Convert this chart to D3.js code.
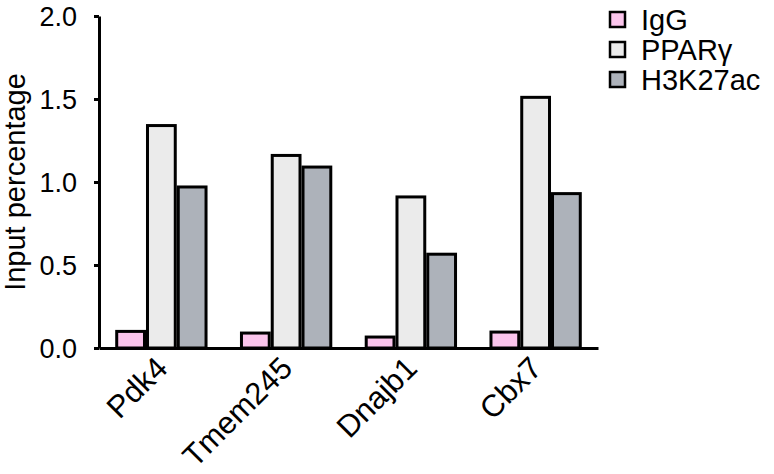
<!DOCTYPE html>
<html>
<head>
<meta charset="utf-8">
<script src="https://cdn.jsdelivr.net/npm/d3@7"></script>
<style>
  body { margin: 0; background: #fff; }
  text { font-family: "Liberation Sans", Arial, sans-serif; fill: #000; }
</style>
</head>
<body>
<div id="chart"></div>
<script>
const genes = ["Pdk4", "Tmem245", "Dnajb1", "Cbx7"];
const groups = ["IgG", "PPARγ", "H3K27ac"];
const igg = [0.10, 0.09, 0.066, 0.096];
const ppar = [1.34, 1.16, 0.91, 1.51];
const h3k = [0.97, 1.09, 0.565, 0.93];
const yTicks = [0, 0.5, 1.0, 1.5, 2.0];
const colors = ["#fbc5ec", "#ebebeb", "#adb2ba"];

const data = genes.map((g, i) => ({
  gene: g,
  values: [igg[i], ppar[i], h3k[i]].map((v, j) => ({ key: groups[j], value: v }))
}));

const width = 774, height = 474;
const margin = { top: 16, right: 176, bottom: 126, left: 99 };

const svg = d3.select("#chart").append("svg")
  .attr("width", width)
  .attr("height", height);

const x0 = d3.scaleBand()
  .domain(genes)
  .range([margin.left, width - margin.right])
  .paddingInner(0.26)
  .paddingOuter(0.13);

const x1 = d3.scaleBand()
  .domain(groups)
  .range([0, x0.bandwidth()])
  .padding(0);

const y = d3.scaleLinear()
  .domain([0, 2])
  .range([height - margin.bottom, margin.top]);

const color = d3.scaleOrdinal().domain(groups).range(colors);

// bars
const g = svg.append("g");
g.selectAll("g.gene")
  .data(data)
  .enter().append("g")
  .attr("class", "gene")
  .attr("transform", d => `translate(${x0(d.gene)},0)`)
  .selectAll("rect")
  .data(d => d.values)
  .enter().append("rect")
  .attr("x", d => x1(d.key) + 1.5)
  .attr("y", d => y(d.value))
  .attr("width", x1.bandwidth() - 3)
  .attr("height", d => y(0) - y(d.value))
  .attr("fill", d => color(d.key))
  .attr("stroke", "#000")
  .attr("stroke-width", 3);

// y axis
const yAxis = svg.append("g")
  .attr("transform", `translate(${margin.left},0)`)
  .call(d3.axisLeft(y).tickValues(yTicks).tickFormat(d3.format(".1f")).tickSize(5).tickSizeOuter(0).tickPadding(17));
yAxis.select(".domain").attr("stroke-width", 3);
yAxis.selectAll(".tick line").attr("stroke-width", 3);
yAxis.selectAll("text").style("font-size", "27px").attr("fill", "#000").attr("dy", "0.36em");

// x axis
const xAxis = svg.append("g")
  .attr("transform", `translate(0,${y(0)})`)
  .call(d3.axisBottom(x0).tickSize(0).tickSizeOuter(0).tickPadding(0));
xAxis.select(".domain").attr("stroke-width", 3);
xAxis.selectAll("text")
  .style("font-size", "31px")
  .attr("fill", "#000")
  .attr("text-anchor", "end")
  .attr("dy", 0)
  .attr("transform", "translate(8,22) rotate(-45)");

// y title
svg.append("text")
  .attr("transform", `translate(25,${(y(0) + y(2)) / 2}) rotate(-90)`)
  .attr("text-anchor", "middle")
  .style("font-size", "29px")
  .text("Input percentage");

// legend
const legend = svg.append("g")
  .attr("transform", "translate(610,12)");
const item = legend.selectAll("g")
  .data(groups)
  .enter().append("g")
  .attr("transform", (d, i) => `translate(0,${i * 30})`);
item.append("rect")
  .attr("width", 15)
  .attr("height", 15)
  .attr("fill", d => color(d))
  .attr("stroke", "#000")
  .attr("stroke-width", 2.5);
item.append("text")
  .attr("x", 31)
  .attr("y", 8)
  .attr("dy", "0.35em")
  .style("font-size", "29px")
  .text(d => d);
</script>
</body>
</html>
